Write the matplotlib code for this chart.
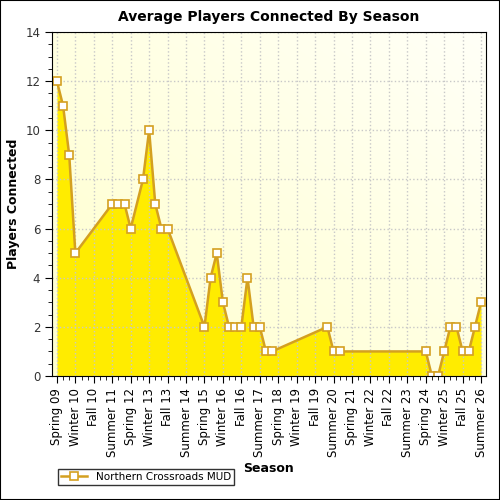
import matplotlib
matplotlib.use("Agg")
import matplotlib.pyplot as plt
import numpy as np
from matplotlib.ticker import MultipleLocator

season_idx = [0,1,2,3,9,10,11,12,14,15,16,17,18,24,25,26,27,28,29,30,31,32,33,34,35,
              44,45,46,60,61,62,63,64,65,66,67,68,69]
players = [12,11,9,5,7,7,7,6,8,10,7,6,6,2,4,5,3,2,2,2,4,2,2,1,1,
           2,1,1,1,0,0,1,2,2,1,1,2,3]
tick_labels = ["Spring 09","Winter 10","Fall 10","Summer 11","Spring 12","Winter 13","Fall 13",
               "Summer 14","Spring 15","Winter 16","Fall 16","Summer 17","Spring 18","Winter 19",
               "Fall 19","Summer 20","Spring 21","Winter 22","Fall 22","Summer 23","Spring 24",
               "Winter 25","Fall 25","Summer 26"]

fig = plt.figure(figsize=(5,5), dpi=100)
ax = fig.add_axes([52/500, 1-376/500, 434/500, 344/500])
xl = (-0.8, 69.8)
ax.set_xlim(*xl); ax.set_ylim(0, 14)

gx = np.linspace(0, 1, 200)
gy = np.linspace(0, 1, 200)
GX, GY = np.meshgrid(gx, gy)
t = np.clip((GX + (1-GY)) / 2, 0, 1)
c0 = np.array([1.0, 1.0, 0.80]); c1 = np.array([1.0, 1.0, 0.97])
img = c0[None,None,:]*(1-t[...,None]) + c1[None,None,:]*t[...,None]
ax.imshow(img, extent=[xl[0], xl[1], 0, 14], aspect='auto', origin='upper', zorder=0)

ax.fill_between(season_idx, players, 0, color='#FFEC00', zorder=2, linewidth=0)
ax.plot(season_idx, players, color='#D4A020', lw=1.8, marker='s', ms=6,
        mfc='white', mec='#D4A020', mew=1.2, zorder=3, label='Northern Crossroads MUD')

ax.set_xticks(np.arange(0, 70, 3))
ax.set_xticklabels(tick_labels, rotation=90, fontsize=8.5)
ax.xaxis.set_minor_locator(MultipleLocator(1))
ax.yaxis.set_major_locator(MultipleLocator(2))
ax.yaxis.set_minor_locator(MultipleLocator(0.5))
ax.tick_params(axis='y', labelsize=8.5, labelcolor='#333333')
ax.tick_params(which='major', length=5)
ax.tick_params(which='minor', length=3)
ax.grid(True, which='major', color='#C8C8C8', ls=':', lw=1, zorder=1)
ax.set_axisbelow(False)
for s in ax.spines.values():
    s.set_zorder(5)
ax.set_xlabel('Season', fontsize=9, fontweight='bold')
ax.set_ylabel('Players Connected', fontsize=9, fontweight='bold')
ax.set_title('Average Players Connected By Season', fontsize=10, fontweight='bold', pad=8)

fig.legend(loc='lower left', bbox_to_anchor=(53/500, 1-490/500), fontsize=7.5,
           frameon=True, fancybox=False, edgecolor='black', borderpad=0.3, handlelength=2.5)
fig.patches.append(plt.Rectangle((0,0),1,1, transform=fig.transFigure, fill=False,
                                 edgecolor='black', lw=1.5))
fig.savefig('out.png', dpi=100)
